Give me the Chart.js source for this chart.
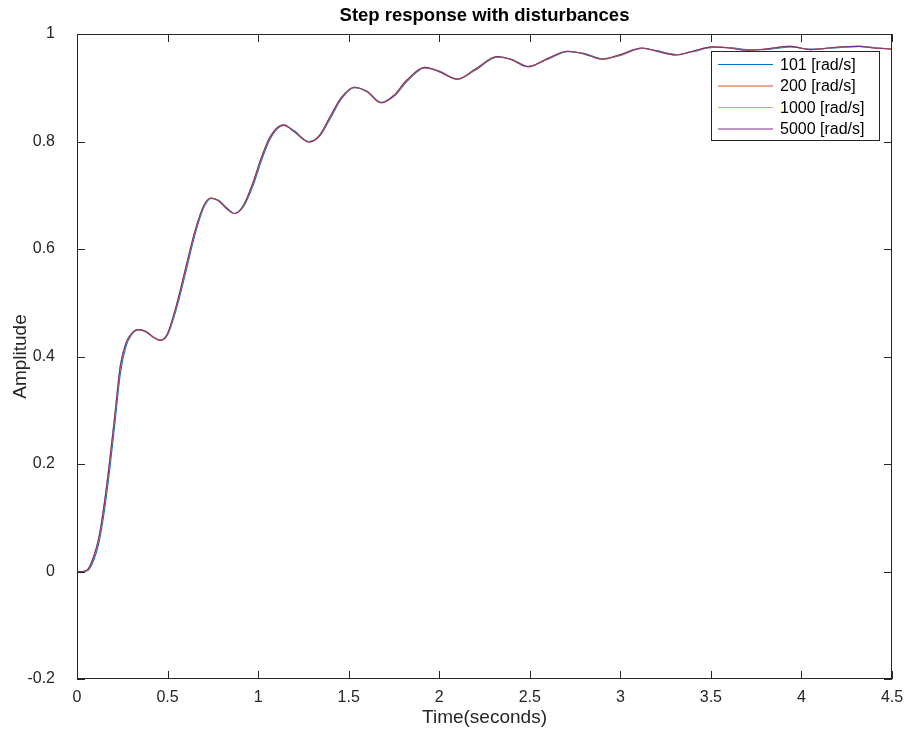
<!DOCTYPE html>
<html>
<head>
<meta charset="utf-8">
<script src="https://cdn.jsdelivr.net/npm/chart.js@4.4.1/dist/chart.umd.min.js"></script>
<style>
  html, body { margin: 0; padding: 0; background: #fff; }
  #wrap { width: 908px; height: 736px; }
</style>
</head>
<body>
<div id="wrap"><canvas id="stepChart" width="908" height="736"></canvas></div>
<script>
// time axis (seconds) and responses
const time = [0, 0.03, 0.06, 0.09, 0.12, 0.15, 0.18, 0.21, 0.24, 0.27, 0.30, 0.34, 0.38, 0.42, 0.46,
  0.50, 0.55, 0.60, 0.65, 0.70, 0.74, 0.78, 0.83, 0.87, 0.92, 0.97, 1.02, 1.07, 1.14, 1.20,
  1.28, 1.34, 1.40, 1.46, 1.53, 1.60, 1.68, 1.75, 1.82, 1.92, 2.00, 2.10, 2.20, 2.32, 2.40,
  2.49, 2.60, 2.71, 2.80, 2.90, 3.00, 3.12, 3.20, 3.31, 3.40, 3.51, 3.60, 3.70, 3.80, 3.94,
  4.05, 4.18, 4.32, 4.40, 4.50];

const resp101 = [0, 0, 0.002, 0.019, 0.052, 0.110, 0.188, 0.278, 0.370, 0.418, 0.440, 0.450, 0.447, 0.437, 0.430,
  0.440, 0.490, 0.556, 0.625, 0.677, 0.694, 0.691, 0.676, 0.666, 0.679, 0.716, 0.766, 0.807, 0.830, 0.820,
  0.800, 0.810, 0.844, 0.879, 0.900, 0.894, 0.873, 0.884, 0.911, 0.937, 0.931, 0.916, 0.933, 0.957, 0.953,
  0.940, 0.953, 0.967, 0.964, 0.954, 0.960, 0.973, 0.969, 0.962, 0.967, 0.975, 0.975, 0.971, 0.971, 0.976,
  0.972, 0.974, 0.977, 0.975, 0.972];

const resp200 = [0, 0, 0.004, 0.025, 0.060, 0.122, 0.202, 0.292, 0.382, 0.424, 0.442, 0.450, 0.446, 0.436, 0.430,
  0.442, 0.495, 0.563, 0.631, 0.680, 0.695, 0.690, 0.674, 0.666, 0.681, 0.721, 0.771, 0.810, 0.831, 0.818,
  0.799, 0.811, 0.847, 0.881, 0.901, 0.893, 0.872, 0.885, 0.913, 0.938, 0.930, 0.916, 0.934, 0.958, 0.952,
  0.939, 0.954, 0.968, 0.963, 0.953, 0.961, 0.974, 0.968, 0.961, 0.968, 0.976, 0.974, 0.970, 0.972, 0.977,
  0.971, 0.975, 0.977, 0.974, 0.972];

const resp1000 = [0, 0, 0.004, 0.026, 0.062, 0.125, 0.205, 0.295, 0.385, 0.425, 0.442, 0.450, 0.446, 0.436, 0.430,
  0.443, 0.497, 0.565, 0.632, 0.681, 0.695, 0.690, 0.674, 0.666, 0.682, 0.722, 0.772, 0.811, 0.831, 0.818,
  0.799, 0.812, 0.848, 0.882, 0.901, 0.893, 0.872, 0.886, 0.914, 0.938, 0.930, 0.916, 0.935, 0.958, 0.952,
  0.939, 0.955, 0.968, 0.963, 0.953, 0.962, 0.974, 0.968, 0.961, 0.968, 0.976, 0.974, 0.970, 0.972, 0.977,
  0.971, 0.975, 0.977, 0.974, 0.972];

const resp5000 = [0, 0, 0.004, 0.026, 0.062, 0.125, 0.205, 0.295, 0.385, 0.425, 0.442, 0.450, 0.446, 0.436, 0.430,
  0.443, 0.497, 0.565, 0.632, 0.681, 0.695, 0.690, 0.674, 0.666, 0.682, 0.722, 0.772, 0.811, 0.831, 0.818,
  0.799, 0.812, 0.848, 0.882, 0.901, 0.893, 0.872, 0.886, 0.914, 0.938, 0.930, 0.916, 0.935, 0.958, 0.952,
  0.939, 0.955, 0.968, 0.963, 0.953, 0.962, 0.974, 0.968, 0.961, 0.968, 0.976, 0.974, 0.970, 0.972, 0.977,
  0.971, 0.975, 0.977, 0.974, 0.972];

const seriesLabels = ['101 [rad/s]', '200 [rad/s]', '1000 [rad/s]', '5000 [rad/s]'];
const seriesValues = [resp101, resp200, resp1000, resp5000];
const seriesColors = ['#0072BD', '#D95319', '#EDB120', '#7E2F8E'];

const AXIS_COLOR = '#262626';
const FONT = '"Liberation Sans", Arial, Helvetica, sans-serif';

// MATLAB style box with inward ticks on all four sides, plus the legend box
const boxPlugin = {
  id: 'matlabBox',
  afterDatasetsDraw(chart) {
    const { ctx, chartArea: a, scales } = chart;
    ctx.save();
    ctx.strokeStyle = AXIS_COLOR;
    ctx.lineWidth = 1;
    ctx.strokeRect(Math.round(a.left) + 0.5, Math.round(a.top) + 0.5,
      Math.round(a.right - a.left) - 1, Math.round(a.bottom - a.top) - 1);

    const tl = 8;
    ctx.beginPath();
    scales.x.ticks.forEach(t => {
      const px = Math.round(scales.x.getPixelForValue(t.value)) + 0.5;
      ctx.moveTo(px, a.bottom); ctx.lineTo(px, a.bottom - tl);
      ctx.moveTo(px, a.top); ctx.lineTo(px, a.top + tl);
    });
    scales.y.ticks.forEach(t => {
      const py = Math.round(scales.y.getPixelForValue(t.value)) + 0.5;
      ctx.moveTo(a.left, py); ctx.lineTo(a.left + tl, py);
      ctx.moveTo(a.right, py); ctx.lineTo(a.right - tl, py);
    });
    ctx.stroke();

    // legend
    const lx = 711, ly = 51, lw = 168, lh = 89;
    ctx.fillStyle = '#fff';
    ctx.fillRect(lx, ly, lw, lh);
    ctx.strokeStyle = AXIS_COLOR;
    ctx.strokeRect(lx + 0.5, ly + 0.5, lw, lh);
    ctx.font = '16px ' + FONT;
    ctx.textBaseline = 'middle';
    ctx.textAlign = 'left';
    chart.data.datasets.forEach((ds, i) => {
      const y = ly + 13.5 + i * 21.5;
      ctx.strokeStyle = ds.borderColor;
      ctx.lineWidth = 1;
      ctx.beginPath();
      ctx.moveTo(lx + 7, y); ctx.lineTo(lx + 62, y);
      ctx.stroke();
      ctx.fillStyle = '#000';
      ctx.fillText(ds.label, lx + 69, y + 1);
    });
    ctx.restore();
  }
};

const ctx = document.getElementById('stepChart').getContext('2d');
new Chart(ctx, {
  type: 'line',
  data: {
    datasets: seriesLabels.map((label, i) => ({
      label,
      data: time.map((t, k) => ({ x: t, y: seriesValues[i][k] })),
      borderColor: seriesColors[i],
      borderWidth: 1.1,
      pointRadius: 0,
      fill: false,
      order: seriesLabels.length - 1 - i, // later series on top, as in MATLAB
      cubicInterpolationMode: 'monotone',
    }))
  },
  options: {
    responsive: false,
    animation: false,
    layout: { padding: { left: 0, right: 16, top: 0, bottom: 0 } },
    plugins: {
      legend: { display: false },
      tooltip: { enabled: false },
      title: {
        display: true,
        fullSize: false,
        text: 'Step response with disturbances',
        color: '#000',
        font: { family: FONT, size: 18.5, weight: 'bold', lineHeight: '21px' },
        padding: { top: 5, bottom: 8 }
      }
    },
    scales: {
      x: {
        type: 'linear',
        min: 0, max: 4.5,
        border: { display: false },
        grid: { display: false, drawTicks: false },
        ticks: { stepSize: 0.5, color: AXIS_COLOR, padding: 9, font: { family: FONT, size: 16 },
          callback: v => String(+v.toFixed(1)) },
        title: { display: true, text: 'Time(seconds)', color: AXIS_COLOR,
          font: { family: FONT, size: 19 }, padding: { top: 4, bottom: 7 } },
        afterFit: s => { s.height = 57; s.paddingLeft = 0; s.paddingRight = 0; }
      },
      y: {
        min: -0.2, max: 1,
        border: { display: false },
        grid: { display: false, drawTicks: false },
        ticks: { stepSize: 0.2, color: AXIS_COLOR, padding: 22, font: { family: FONT, size: 16 },
          callback: v => String(+v.toFixed(1)) },
        title: { display: true, text: 'Amplitude', color: AXIS_COLOR,
          font: { family: FONT, size: 19 }, padding: { top: 9, bottom: 4 } },
        afterFit: s => { s.width = 77; }
      }
    }
  },
  plugins: [boxPlugin]
});
</script>
</body>
</html>
